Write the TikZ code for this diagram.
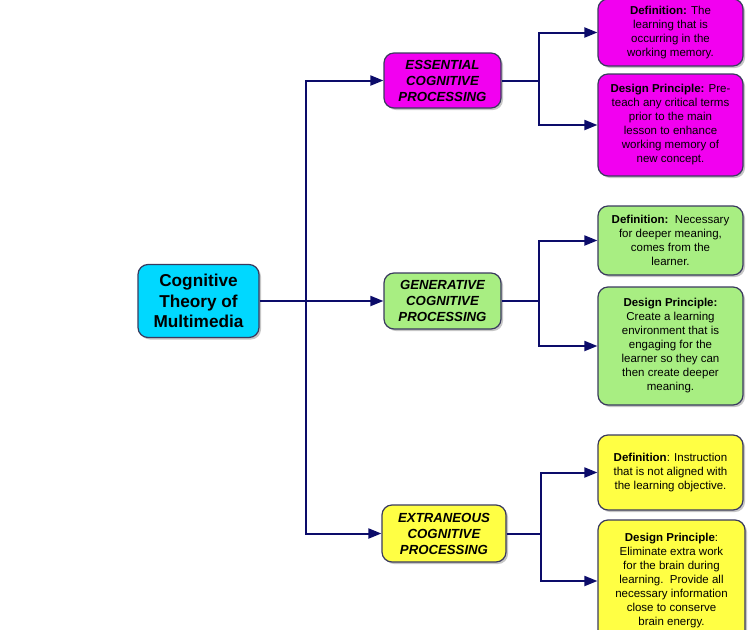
\documentclass[tikz,border=0pt]{standalone}
\usepackage{fontspec}
\setmainfont{Liberation Sans}
\usetikzlibrary{arrows.meta,shadows}
\definecolor{cyanbox}{HTML}{00D8FF}
\definecolor{magbox}{HTML}{F200F0}
\definecolor{greenbox}{HTML}{A8EE82}
\definecolor{yellowbox}{HTML}{FFFF44}
\definecolor{navy}{HTML}{0C0C6A}
\definecolor{edge}{HTML}{3A3A5E}
\tikzset{
  box/.style={draw=edge, line width=1.2, rounded corners=10, align=center, inner sep=0,
    drop shadow={opacity=0.45, shadow xshift=2pt, shadow yshift=-2pt}},
  rootbox/.style={box, fill=cyanbox, font=\fontsize{17.2}{20.5}\selectfont\bfseries},
  midbox/.style={box, font=\fontsize{13.2}{16}\selectfont\bfseries\itshape},
  leafbox/.style={box, font=\fontsize{11.5}{14}\selectfont},
  conn/.style={draw=navy, line width=2},
  arr/.style={conn, -{Triangle[length=13,width=10]}}
}
\begin{document}
\begin{tikzpicture}[x=1pt,y=-1pt]
\useasboundingbox (0,0) rectangle (748,630);
\clip (0,0) rectangle (748,630);
\node[rootbox, minimum width=121, minimum height=73] (root) at (198.5,301) {Cognitive\\Theory of\\Multimedia};
\node[midbox, fill=magbox, minimum width=117, minimum height=55] (ess) at (442.5,80.5) {ESSENTIAL\\COGNITIVE\\PROCESSING};
\node[midbox, fill=greenbox, minimum width=117, minimum height=56] (gen) at (442.5,301) {GENERATIVE\\COGNITIVE\\PROCESSING};
\node[midbox, fill=yellowbox, minimum width=124, minimum height=57] (ext) at (444,533.5) {EXTRANEOUS\\COGNITIVE\\PROCESSING};

\node[leafbox, fill=magbox, minimum width=145, minimum height=67] (def1) at (670.5,32.5) {\textbf{Definition:} The\\learning that is\\occurring in the\\working memory.};
\node[leafbox, fill=magbox, minimum width=145, minimum height=102] (dp1) at (670.5,125) {\textbf{Design Principle:} Pre-\\teach any critical terms\\prior to the main\\lesson to enhance\\working memory of\\new concept.};
\node[leafbox, fill=greenbox, minimum width=145, minimum height=69] (def2) at (670.5,240.5) {\textbf{Definition:}\ \ Necessary\\for deeper meaning,\\comes from the\\learner.};
\node[leafbox, fill=greenbox, minimum width=145, minimum height=118] (dp2) at (670.5,346) {\textbf{Design Principle:}\\Create a learning\\environment that is\\engaging for the\\learner so they can\\then create deeper\\meaning.};
\node[leafbox, fill=yellowbox, minimum width=145, minimum height=75] (def3) at (670.5,472.5) {\textbf{Definition}: Instruction\\that is not aligned with\\the learning objective.};
\node[leafbox, fill=yellowbox, minimum width=147, minimum height=122] (dp3) at (671.5,581) {\textbf{Design Principle}:\\Eliminate extra work\\for the brain during\\learning.\ \ Provide all\\necessary information\\close to conserve\\brain energy.};

\coordinate (j0) at (306,301);
\coordinate (j1) at (539,80.5);
\coordinate (j2) at (539,301);
\coordinate (j3) at (541,533.5);

\draw[arr] (root.east) -- (gen.west);
\draw[arr] (j0) |- (ess.west);
\draw[arr] (j0) |- (ext.west);

\draw[conn] (ess.east) -- (j1);
\draw[arr] (j1) |- (def1.west);
\draw[arr] (j1) |- (dp1.west);

\draw[conn] (gen.east) -- (j2);
\draw[arr] (j2) |- (def2.west);
\draw[arr] (j2) |- (dp2.west);

\draw[conn] (ext.east) -- (j3);
\draw[arr] (j3) |- (def3.west);
\draw[arr] (j3) |- (dp3.west);
\end{tikzpicture}
\end{document}
